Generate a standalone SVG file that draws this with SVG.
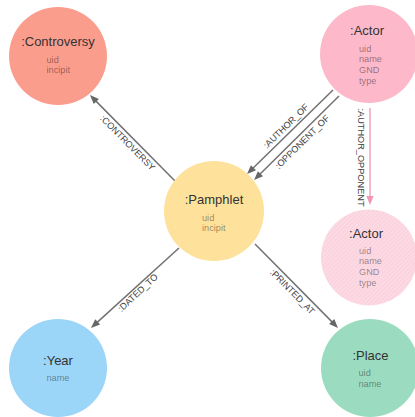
<svg xmlns="http://www.w3.org/2000/svg" width="415" height="417" viewBox="0 0 415 417">
<style>
  .title { font-family: "Liberation Sans", Arial, sans-serif; font-size: 13px; fill: #333; text-anchor: middle; }
  .prop { font-family: "Liberation Sans", Arial, sans-serif; font-size: 9.2px; fill: #000; fill-opacity: 0.42; }
  .edge { stroke: #717171; stroke-width: 1.5; fill: none; }
  .edge-pink { stroke: #F3A2BF; stroke-width: 1.5; fill: none; }
  .lbl { font-family: "Liberation Sans", Arial, sans-serif; font-size: 9.2px; fill: #444; text-anchor: middle; }
</style>
<defs>
  <marker id="arr" markerUnits="userSpaceOnUse" markerWidth="10" markerHeight="10" refX="0" refY="0" orient="auto" overflow="visible">
    <path d="M-4,-3.6 L5,0 L-4,3.6 z" fill="#666"/>
  </marker>
  <marker id="arrPink" markerUnits="userSpaceOnUse" markerWidth="10" markerHeight="10" refX="0" refY="0" orient="auto" overflow="visible">
    <path d="M-4,-3.6 L5,0 L-4,3.6 z" fill="#F196B7"/>
  </marker>
  <pattern id="hatch" patternUnits="userSpaceOnUse" width="3" height="3" patternTransform="rotate(-45)">
    <rect width="3" height="3" fill="#FBD3DF"/>
    <line x1="0" y1="0.5" x2="3" y2="0.5" stroke="#FFFFFF" stroke-opacity="0.3" stroke-width="0.8"/>
  </pattern>
</defs>

<g id="connectors">
  <g id="e-controversy">
    <path class="edge" d="M176,182 L93.5,98.6" marker-end="url(#arr)"/>
    <text class="lbl" transform="translate(132.5,138) rotate(45.3)" x="0" y="10">:CONTROVERSY</text>
  </g>
  <g id="e-author-of">
    <path class="edge" d="M333,90 L250.6,170.5" marker-end="url(#arr)"/>
    <text class="lbl" transform="translate(290.9,131.1) rotate(-44.3)" x="0" y="-4">:AUTHOR_OF</text>
  </g>
  <g id="e-opponent-of">
    <path class="edge" d="M339,96 L257.6,176.5" marker-end="url(#arr)"/>
    <text class="lbl" transform="translate(297.5,137) rotate(-44.7)" x="0" y="10">:OPPONENT_OF</text>
  </g>
  <g id="e-author-opponent">
    <path class="edge-pink" d="M370,108 L370,200" marker-end="url(#arrPink)"/>
    <text class="lbl" transform="translate(370,157.5) rotate(90)" x="0" y="12">:AUTHOR_OPPONENT</text>
  </g>
  <g id="e-dated-to">
    <path class="edge" d="M179,248 L94.7,324.6" marker-end="url(#arr)"/>
    <text class="lbl" transform="translate(134.5,289) rotate(-43)" x="0" y="8">:DATED_TO</text>
  </g>
  <g id="e-printed-at">
    <path class="edge" d="M255,244 L334.5,324.4" marker-end="url(#arr)"/>
    <text class="lbl" transform="translate(297.4,286.9) rotate(45.3)" x="0" y="10">:PRINTED_AT</text>
  </g>
</g>

<g id="node-controversy">
  <circle cx="58" cy="56" r="49" fill="#FA9D8D"/>
  <text class="title" x="58" y="46">:Controversy</text>
  <text class="prop" x="46.5" y="62.5">uid</text>
  <text class="prop" x="46.5" y="73">incipit</text>
</g>

<g id="node-actor">
  <circle cx="369" cy="54" r="49" fill="#FDB8C9"/>
  <text class="title" x="367" y="35">:Actor</text>
  <text class="prop" x="359" y="51.7">uid</text>
  <text class="prop" x="359" y="62.4">name</text>
  <text class="prop" x="359" y="73.1">GND</text>
  <text class="prop" x="359" y="83.8">type</text>
</g>

<g id="node-pamphlet">
  <circle cx="214" cy="211" r="50" fill="#FEE29B"/>
  <text class="title" x="214" y="204">:Pamphlet</text>
  <text class="prop" x="202" y="220.5">uid</text>
  <text class="prop" x="202" y="231.2">incipit</text>
</g>

<g id="node-actor2">
  <circle cx="369" cy="257.5" r="48" fill="url(#hatch)"/>
  <text class="title" x="366" y="237.5">:Actor</text>
  <text class="prop" x="359" y="253.5">uid</text>
  <text class="prop" x="359" y="264.2">name</text>
  <text class="prop" x="359" y="274.9">GND</text>
  <text class="prop" x="359" y="285.6">type</text>
</g>

<g id="node-year">
  <circle cx="58" cy="368" r="49" fill="#9BD5F8"/>
  <text class="title" x="58" y="364.5">:Year</text>
  <text class="prop" x="46.5" y="380.5">name</text>
</g>

<g id="node-place">
  <circle cx="370" cy="368" r="49" fill="#9BDCC1"/>
  <text class="title" x="370.5" y="359.5">:Place</text>
  <text class="prop" x="358.5" y="376">uid</text>
  <text class="prop" x="358.5" y="386.7">name</text>
</g>
</svg>
